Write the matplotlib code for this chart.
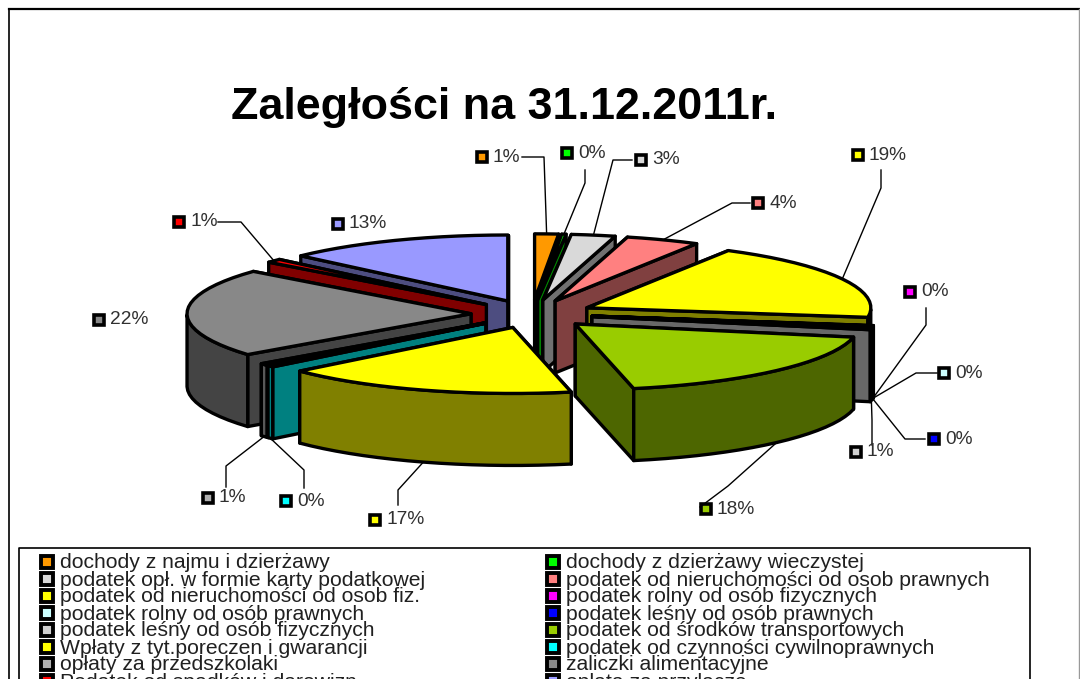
import numpy as np
import matplotlib
matplotlib.use("Agg")
import matplotlib.pyplot as plt
from matplotlib.patches import Polygon, Rectangle

# -----------------------------
# Data
# -----------------------------
categories = [
    "dochody z najmu i dzierżawy", "dochody z dzierżawy wieczystej",
    "podatek opł. w formie karty podatkowej", "podatek od nieruchomości od osob prawnych",
    "podatek od nieruchomości od osob fiz.", "podatek rolny od osób fizycznych",
    "podatek rolny od osób prawnych", "podatek leśny od osób prawnych",
    "podatek leśny od osób fizycznych", "podatek od środków transportowych",
    "Wpłaty z tyt.poreczen i gwarancji", "podatek od czynności cywilnoprawnych",
    "opłaty za przedszkolaki", "zaliczki alimentacyjne",
    "Podatek od spadków i darowizn", "opłata za przyłącze",
]
shares = [1.35, 0.25, 2.5, 4.2, 19.0, 0.1, 0.1, 0.05, 0.65, 18.5, 16.8, 0.4, 0.5, 21.7, 0.9, 13.0]
percent_labels = ["1%", "0%", "3%", "4%", "19%", "0%", "0%", "0%", "1%", "18%", "17%", "0%", "1%", "22%", "1%", "13%"]
top_colors = ["#ff9900", "#00ff00", "#d9d9d9", "#ff8080", "#ffff00", "#ff00ff", "#ccffff", "#0000ff",
              "#d0d0d0", "#99cc00", "#ffff00", "#00ffff", "#b0b0b0", "#888888", "#ff0000", "#9999ff"]
side_colors = ["#804d00", "#008000", "#707070", "#804040", "#808000", "#800080", "#668080", "#000080",
               "#686868", "#4d6600", "#808000", "#008080", "#585858", "#444444", "#800000", "#4d4d80"]

# label box position, then elbow of the leader line
label_xy = [(482, 157), (567, 153), (641, 160), (758, 203), (858, 155), (910, 292), (944, 373), (934, 439),
            (856, 452), (706, 509), (375, 520), (286, 501), (208, 498), (99, 320), (179, 222), (338, 224)]
elbows = [[(522, 157), (544, 157), (546, 215)], [(585, 170), (585, 183)], [(632, 160), (613, 160)],
          [(750, 203), (732, 203)], [(881, 170), (881, 188)], [(926, 308), (926, 325)],
          [(937, 373), (916, 373)], [(925, 439), (905, 439)], [(872, 445), (872, 420)],
          [(700, 507), (728, 486)], [(398, 505), (398, 490)], [(304, 488), (304, 470)],
          [(226, 487), (226, 466)], None, [(218, 222), (241, 222)], None]

# -----------------------------
# Pie geometry (pixels)
# -----------------------------
CX, CY = 532, 314
RX, RY = 284, 66
EXPLODE = 61
DEPTH = 72
LW = 2.4


def pt(angle, rx, ry, ox=0, oy=0):
    return (ox + rx * np.sin(angle), oy - ry * np.cos(angle))


fig = plt.figure(figsize=(10.8, 6.79), dpi=100)
ax = fig.add_axes([0, 0, 1, 1])
ax.set_xlim(0, 1080)
ax.set_ylim(679, 0)
ax.axis("off")

# frame around the chart
ax.plot([9, 9], [679, 9], color="black", lw=1.2)
ax.plot([9, 1079], [8.5, 8.5], color="black", lw=1.6)
ax.plot([1079, 1079], [9, 679], color="#999999", lw=1.0)

ax.text(504.5, 119, "Zaległości na 31.12.2011r.", family="Liberation Sans", weight="bold",
        fontsize=32.3, ha="center", va="baseline", color="black")

total = sum(shares)
edges = np.cumsum([0] + shares) / total * 2 * np.pi
mids = (edges[:-1] + edges[1:]) / 2

# back slices first, the ones nearest the viewer last
order = sorted(range(len(shares)), key=lambda i: -np.cos(mids[i]))
anchors = {}
for i in order:
    a0, a1 = edges[i], edges[i + 1]
    ox, oy = pt(mids[i], EXPLODE, EXPLODE * RY / RX, CX, CY)
    steps = np.linspace(a0, a1, max(2, int((a1 - a0) / 0.06) + 2))
    rim = [pt(a, RX, RY, ox, oy) for a in steps]
    style = dict(edgecolor="black", lw=LW, joinstyle="round")

    # the two cut faces, the lower one on screen goes last
    faces = sorted([rim[0], rim[-1]], key=lambda p: p[1])
    for p in faces:
        quad = [(ox, oy), p, (p[0], p[1] + DEPTH), (ox, oy + DEPTH)]
        ax.add_patch(Polygon(quad, closed=True, facecolor=side_colors[i], **style))

    # outer wall, only the part turned to the viewer
    front = [a for a in steps if np.cos(a) < 0]
    if len(front) >= 2:
        upper = [pt(a, RX, RY, ox, oy) for a in front]
        lower = [(x, y + DEPTH) for x, y in upper][::-1]
        ax.add_patch(Polygon(upper + lower, closed=True, facecolor=side_colors[i], **style))

    ax.add_patch(Polygon([(ox, oy)] + rim, closed=True, facecolor=top_colors[i], **style))

    x, y = pt(mids[i], RX, RY, ox, oy)
    anchors[i] = (x, y + DEPTH) if np.cos(mids[i]) < 0 else (x, y)

# percentage labels with leader lines
for i, label in enumerate(percent_labels):
    lx, ly = label_xy[i]
    ax.add_patch(Rectangle((lx - 5, ly - 5), 10, 10, facecolor=top_colors[i], edgecolor="black", lw=2.6))
    ax.text(lx + 11, ly, label, family="Liberation Sans", fontsize=13.8, color="#303030", ha="left", va="center")
    if elbows[i] is not None:
        line = elbows[i] + [anchors[i]]
        ax.plot([p[0] for p in line], [p[1] for p in line], color="black", lw=1.0)

# -----------------------------
# Legend
# -----------------------------
ax.plot([19, 19, 1030, 1030], [679, 548, 548, 679], color="black", lw=1.2)
for i, name in enumerate(categories):
    row, col = i // 2, i % 2
    x = 47 if col == 0 else 553
    y = 562 + row * 17.0
    ax.add_patch(Rectangle((x - 6, y - 6), 12, 12, facecolor=top_colors[i], edgecolor="black", lw=2.8))
    ax.text(x + 13, y + 1, name, family="Liberation Sans", fontsize=15.2, color="#202020", ha="left", va="center",
            clip_on=True)

fig.savefig("out.png", dpi=100)
